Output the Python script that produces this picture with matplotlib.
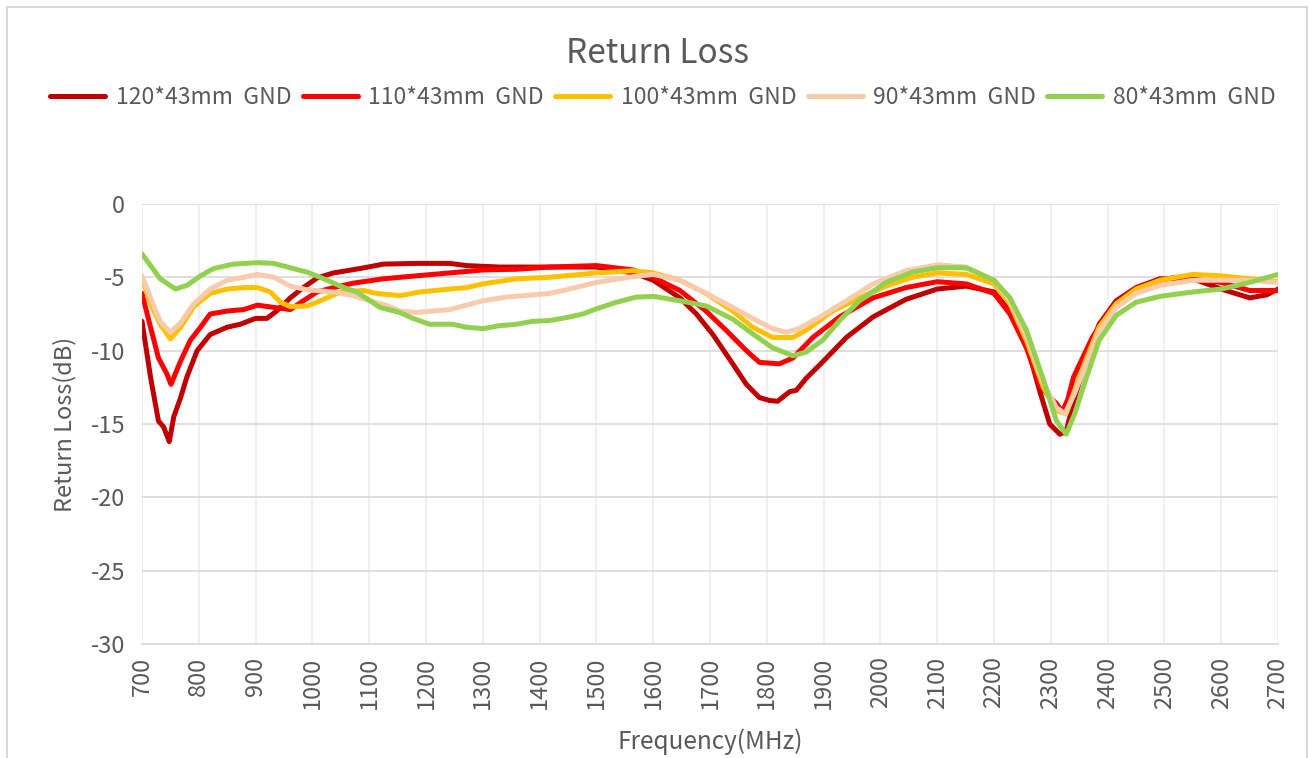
import matplotlib.pyplot as plt
from matplotlib.patches import Rectangle

plt.rcParams['font.family'] = ['Noto Sans CJK SC', 'DejaVu Sans']
plt.rcParams['axes.unicode_minus'] = False

# frequency (MHz) / return loss (dB)
f_120 = [700, 715, 729, 738, 748, 756, 768, 779, 797, 820, 850, 873, 900, 920, 937, 961, 984, 1008,
         1037, 1084, 1125, 1183, 1242, 1271, 1329, 1417, 1500, 1565, 1600, 1647, 1676, 1705, 1740,
         1764, 1787, 1805, 1819, 1840, 1852, 1869, 1900, 1940, 1987, 2045, 2100, 2151, 2200, 2228,
         2257, 2280, 2298, 2316, 2327, 2342, 2363, 2385, 2415, 2450, 2492, 2550, 2600, 2650, 2680, 2700]
rl_120 = [-8.0, -11.8, -14.8, -15.2, -16.2, -14.5, -13.2, -11.8, -10.0, -8.9, -8.4, -8.2, -7.8, -7.8,
          -7.3, -6.4, -5.7, -5.05, -4.7, -4.4, -4.1, -4.05, -4.05, -4.2, -4.3, -4.3, -4.3, -4.7, -5.2,
          -6.4, -7.5, -8.9, -10.9, -12.3, -13.2, -13.4, -13.45, -12.8, -12.7, -11.9, -10.7, -9.1, -7.7,
          -6.5, -5.8, -5.6, -6.0, -7.3, -9.5, -12.7, -15.0, -15.7, -15.5, -13.2, -10.5, -8.2, -6.6,
          -5.7, -5.1, -5.1, -5.8, -6.4, -6.2, -5.8]

f_110 = [700, 715, 729, 744, 751, 768, 785, 803, 820, 850, 879, 903, 932, 961, 984, 1008, 1037, 1072,
         1125, 1183, 1242, 1300, 1359, 1417, 1500, 1565, 1600, 1647, 1693, 1728, 1764, 1787, 1822,
         1846, 1881, 1928, 1987, 2045, 2100, 2151, 2200, 2228, 2257, 2280, 2298, 2310, 2320, 2330,
         2340, 2373, 2403, 2444, 2492, 2520, 2600, 2650, 2700]
rl_110 = [-6.1, -8.4, -10.5, -11.6, -12.3, -10.7, -9.3, -8.4, -7.5, -7.3, -7.2, -6.9, -7.05, -7.2,
          -6.6, -6.0, -5.7, -5.4, -5.1, -4.9, -4.7, -4.5, -4.45, -4.3, -4.2, -4.5, -5.0, -5.9, -7.3,
          -8.6, -10.0, -10.8, -10.9, -10.5, -9.1, -7.7, -6.4, -5.7, -5.3, -5.45, -6.1, -7.5, -9.8,
          -12.3, -13.2, -13.6, -14.2, -13.3, -11.8, -9.1, -7.3, -5.9, -5.2, -5.0, -5.35, -5.9, -5.9]

f_100 = [700, 715, 732, 750, 768, 791, 820, 850, 879, 903, 926, 944, 961, 991, 1014, 1049, 1090, 1113,
         1154, 1189, 1242, 1271, 1300, 1359, 1417, 1500, 1565, 1600, 1647, 1693, 1740, 1775, 1810,
         1846, 1869, 1916, 1963, 2010, 2056, 2100, 2151, 2200, 2228, 2257, 2287, 2310, 2327, 2342,
         2363, 2385, 2415, 2450, 2492, 2550, 2600, 2650, 2700]
rl_100 = [-5.0, -6.8, -8.2, -9.2, -8.4, -7.0, -6.1, -5.8, -5.7, -5.7, -6.0, -6.7, -7.0, -6.95, -6.6,
          -6.0, -5.9, -6.1, -6.25, -6.0, -5.8, -5.7, -5.45, -5.1, -5.0, -4.7, -4.55, -4.7, -5.2, -6.1,
          -7.3, -8.4, -9.1, -9.1, -8.6, -7.3, -6.4, -5.6, -5.0, -4.7, -4.8, -5.45, -6.8, -9.3, -12.5,
          -14.1, -14.3, -12.7, -10.5, -8.4, -6.8, -5.8, -5.2, -4.8, -4.9, -5.1, -5.3]

f_90 = [700, 715, 732, 750, 768, 791, 820, 850, 879, 903, 932, 961, 991, 1037, 1072, 1101, 1130, 1154,
        1183, 1212, 1242, 1271, 1300, 1341, 1388, 1417, 1447, 1500, 1565, 1600, 1647, 1693, 1740,
        1775, 1810, 1834, 1857, 1898, 1940, 1987, 2045, 2100, 2151, 2200, 2228, 2257, 2287, 2310,
        2325, 2342, 2363, 2385, 2415, 2450, 2492, 2550, 2600, 2650, 2700]
rl_90 = [-4.9, -6.4, -8.0, -8.75, -8.1, -6.8, -5.8, -5.2, -5.0, -4.8, -5.0, -5.6, -5.85, -6.0, -6.25,
         -6.6, -6.9, -7.3, -7.4, -7.3, -7.2, -6.9, -6.6, -6.35, -6.2, -6.1, -5.85, -5.35, -4.95, -4.8,
         -5.2, -6.1, -7.05, -7.8, -8.5, -8.75, -8.5, -7.6, -6.6, -5.45, -4.55, -4.15, -4.3, -5.2,
         -6.6, -9.0, -12.2, -13.9, -14.3, -12.9, -10.8, -8.7, -7.05, -6.1, -5.55, -5.2, -5.2, -5.2,
         -5.35]

f_80 = [700, 715, 732, 759, 779, 803, 826, 861, 903, 932, 961, 991, 1026, 1055, 1078, 1119, 1154, 1177,
        1206, 1247, 1271, 1300, 1329, 1359, 1388, 1417, 1447, 1476, 1500, 1535, 1570, 1600, 1647,
        1693, 1740, 1775, 1810, 1846, 1869, 1898, 1928, 1963, 2010, 2056, 2100, 2151, 2200, 2228,
        2257, 2287, 2310, 2327, 2342, 2363, 2385, 2415, 2450, 2492, 2550, 2600, 2650, 2700]
rl_80 = [-3.4, -4.2, -5.1, -5.8, -5.55, -4.9, -4.4, -4.1, -4.0, -4.05, -4.35, -4.65, -5.2, -5.7, -6.0,
         -7.05, -7.4, -7.8, -8.2, -8.2, -8.4, -8.5, -8.3, -8.2, -8.0, -7.95, -7.75, -7.5, -7.15, -6.7,
         -6.35, -6.3, -6.6, -6.95, -7.85, -8.85, -9.8, -10.35, -10.1, -9.3, -7.95, -6.6, -5.35, -4.65,
         -4.35, -4.35, -5.2, -6.4, -8.6, -12.0, -14.8, -15.7, -14.3, -11.8, -9.3, -7.6, -6.7, -6.3,
         -6.0, -5.8, -5.35, -4.8]

labels = ['120*43mm  GND', '110*43mm  GND', '100*43mm  GND', '90*43mm  GND', '80*43mm  GND']
colors = ['#C00000', '#FF0000', '#FFC000', '#F8CBAD', '#92D050']
series = [(f_120, rl_120), (f_110, rl_110), (f_100, rl_100), (f_90, rl_90), (f_80, rl_80)]

fig = plt.figure(figsize=(13.1, 7.58), dpi=100)
ax = fig.add_axes([0.1084, 0.1504, 0.8672, 0.5805])

for (f, rl), label, c in zip(series, labels, colors):
    ax.plot(f, rl, color=c, lw=3.6, label=label, solid_capstyle='round', solid_joinstyle='round')

ax.set_xlim(700, 2700)
ax.set_ylim(-30, 0)
ax.set_xticks(range(700, 2701, 100))
ax.set_yticks(range(-30, 1, 5))
ax.tick_params(axis='x', rotation=90, length=0, labelsize=17, labelcolor='#595959', pad=9)
ax.tick_params(axis='y', length=0, labelsize=17, labelcolor='#595959', pad=12)
ax.grid(axis='y', color='#D9D9D9', lw=1.2)
ax.grid(axis='x', color='#EDEDED', lw=1.2)
ax.set_axisbelow(True)
for s in ['top', 'right', 'left']:
    ax.spines[s].set_visible(False)
ax.spines['bottom'].set_color('#D9D9D9')
ax.spines['bottom'].set_linewidth(1.2)

ax.set_xlabel('Frequency(MHz)', fontsize=17.5, color='#595959', labelpad=14)
ax.set_ylabel('Return Loss(dB)', fontsize=17, color='#595959', labelpad=10)
fig.text(0.502, 0.930, 'Return Loss', fontsize=24, color='#595959', ha='center', va='center')

fig.legend(loc='center', bbox_to_anchor=(0.506, 0.871), ncol=5, frameon=False, fontsize=16.5,
           labelcolor='#595959', handlelength=2.4, columnspacing=0.5, handletextpad=0.45)

fig.patches.append(Rectangle((7 / 1310, -0.01), 1300 / 1310, 1 - 7 / 758 + 0.01, transform=fig.transFigure,
                             fill=False, edgecolor='#D9D9D9', lw=1.5))

fig.savefig('out.png', dpi=100)
